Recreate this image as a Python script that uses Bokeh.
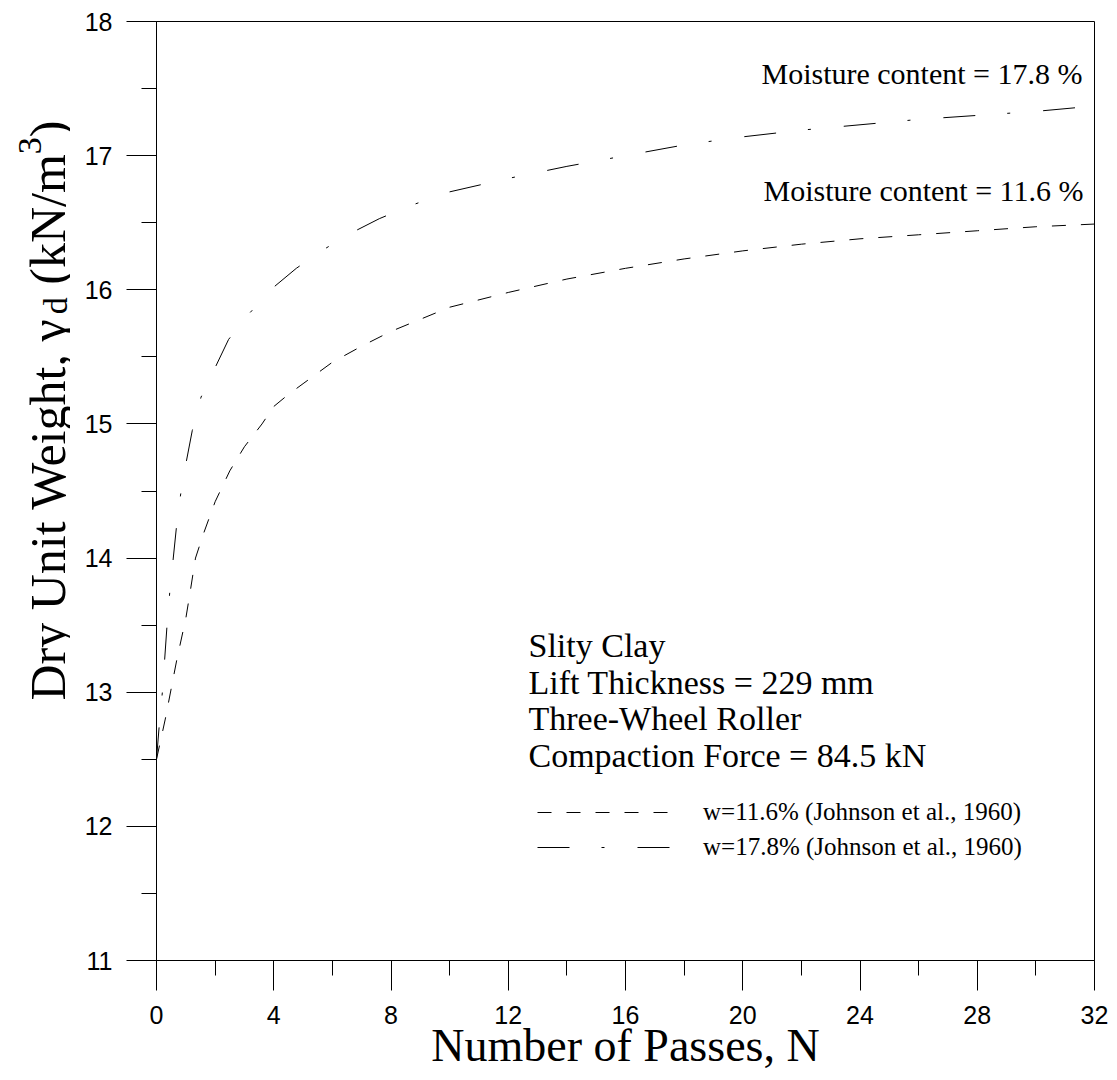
import math
from bokeh.plotting import figure
from bokeh.layouts import row
from bokeh.models import (Range1d, SingleIntervalTicker, LinearAxis, Label,
                          Legend, LegendItem, ColumnDataSource)
from bokeh.core.properties import value
from bokeh.embed import file_html
from bokeh.resources import INLINE

# ---------------- data ----------------
passes_w116 = [0, 0.3, 0.7, 1.0, 1.15, 1.33, 1.6, 2.0, 2.5, 3.0, 3.6, 4.0, 4.5, 5, 6, 7,
               8, 9, 10, 12, 14, 16, 18, 20, 22, 24, 26, 28, 30, 32]
gamma_w116 = [12.5, 12.8, 13.25, 13.55, 13.75, 14.0, 14.18, 14.42, 14.65, 14.83, 15.0,
              15.13, 15.22, 15.3, 15.46, 15.58, 15.69, 15.78, 15.87, 15.98, 16.08, 16.16,
              16.23, 16.29, 16.34, 16.38, 16.41, 16.44, 16.47, 16.49]

passes_w178 = [0, 0.1, 0.2, 0.36, 0.45, 0.68, 0.82, 1.0, 1.22, 1.52, 2.0, 2.46, 3.15, 4.0,
               4.77, 5.7, 6.7, 7.6, 8.7, 10, 12, 14, 16, 18, 20, 22, 24, 26, 28, 30, 32]
gamma_w178 = [12.5, 12.77, 13.0, 13.5, 13.74, 14.23, 14.47, 14.7, 14.95, 15.2, 15.42, 15.63,
              15.82, 16.02, 16.16, 16.30, 16.43, 16.53, 16.63, 16.73, 16.83, 16.92, 17.0,
              17.08, 17.14, 17.19, 17.23, 17.27, 17.30, 17.33, 17.37]

series_labels = ["w=11.6% (Johnson et al., 1960)", "w=17.8% (Johnson et al., 1960)"]
curve_notes = ["Moisture content = 17.8 %", "Moisture content = 11.6 %"]
info_lines = ["Slity Clay", "Lift Thickness = 229 mm", "Three-Wheel Roller",
              "Compaction Force = 84.5 kN"]
x_title = "Number of Passes, N"
y_title_parts = ["Dry Unit Weight, \u03b3", "d", "(kN/m", "3", ")"]

SERIF = "Liberation Serif"
SANS = "Liberation Sans"

W_TOTAL, H_TOTAL = 1117, 1080
W_LEFT = 70                      # strip that carries the y-axis title
FRAME_LEFT = 156                 # frame edges in the page
FRAME_TOP, FRAME_BOTTOM = 21, 960

# ---------------- main chart ----------------
p = figure(width=W_TOTAL - W_LEFT, height=H_TOTAL, output_backend="svg",
           toolbar_location=None,
           x_range=Range1d(0, 32), y_range=Range1d(11, 18),
           x_axis_type=None, y_axis_type=None,
           min_border_left=FRAME_LEFT - W_LEFT, min_border_right=23,
           min_border_top=FRAME_TOP, min_border_bottom=H_TOTAL - FRAME_BOTTOM)
p.background_fill_color = "white"
p.border_fill_color = "white"
p.outline_line_color = "black"
p.outline_line_width = 1
p.outline_line_alpha = 1.0

xaxis = LinearAxis(ticker=SingleIntervalTicker(interval=4, num_minor_ticks=2))
yaxis = LinearAxis(ticker=SingleIntervalTicker(interval=1, num_minor_ticks=2))
for ax in (xaxis, yaxis):
    ax.major_tick_out = 30
    ax.major_tick_in = 0
    ax.minor_tick_out = 15
    ax.minor_tick_in = 0
    ax.axis_line_color = "black"
    ax.major_tick_line_color = "black"
    ax.minor_tick_line_color = "black"
    ax.major_label_text_font = SANS
    ax.major_label_text_font_size = "25px"
    ax.major_label_text_color = "black"
xaxis.major_label_standoff = 15
yaxis.major_label_standoff = 14
xaxis.axis_label = x_title
xaxis.axis_label_text_font = SERIF
xaxis.axis_label_text_font_size = "46px"
xaxis.axis_label_text_font_style = "normal"
xaxis.axis_label_text_color = "black"
xaxis.axis_label_standoff = -7
p.add_layout(xaxis, "below")
p.add_layout(yaxis, "left")

src116 = ColumnDataSource(dict(x=passes_w116, y=gamma_w116))
src178 = ColumnDataSource(dict(x=passes_w178, y=gamma_w178))
r1 = p.line("x", "y", source=src116, line_color="black", line_width=1, line_dash="14 15")
r2 = p.line("x", "y", source=src178, line_color="black", line_width=1,
            line_dash="32 32 3 33")

legend = Legend(items=[LegendItem(label=series_labels[0], renderers=[r1]),
                       LegendItem(label=series_labels[1], renderers=[r2])],
                location=(381, 98), orientation="vertical",
                glyph_width=133, glyph_height=30, label_height=30,
                label_standoff=33, spacing=5, padding=0, margin=0,
                border_line_color=None, background_fill_alpha=0,
                label_text_font=SERIF, label_text_font_size="25px",
                label_text_color="black")
p.add_layout(legend)

def sx(X):
    return X - FRAME_LEFT

def sy(Y):
    return FRAME_BOTTOM - Y

p.add_layout(Label(x=sx(1082), y=sy(73), x_units="screen", y_units="screen",
                   text=curve_notes[0], text_align="right", text_baseline="middle",
                   text_font=SERIF, text_font_size="30px", text_color="black"))
p.add_layout(Label(x=sx(1083), y=sy(190), x_units="screen", y_units="screen",
                   text=curve_notes[1], text_align="right", text_baseline="middle",
                   text_font=SERIF, text_font_size="30px", text_color="black"))

for i, t in enumerate(info_lines):
    p.add_layout(Label(x=sx(528), y=sy(645 + 36.7 * i), x_units="screen", y_units="screen",
                       text=t, text_align="left", text_baseline="middle",
                       text_font=SERIF, text_font_size="34px", text_color="black"))

# ---------------- left strip with the y-axis title ----------------
# its frame covers the same rows as the main frame; data y == page pixels from bottom
q = figure(width=W_LEFT, height=H_TOTAL, output_backend="svg", toolbar_location=None,
           x_range=Range1d(0, W_LEFT),
           y_range=Range1d(H_TOTAL - FRAME_BOTTOM, H_TOTAL - FRAME_TOP),
           x_axis_type=None, y_axis_type=None,
           min_border_left=0, min_border_right=0,
           min_border_top=FRAME_TOP, min_border_bottom=H_TOTAL - FRAME_BOTTOM)
q.outline_line_color = None
q.background_fill_color = "white"
q.border_fill_color = "white"
q.grid.visible = False

F = 50.0
small = 0.68 * F
# (font size, advance in em of F, baseline shift to the right)
piece_fmt = [(F, 7.277 + 0.45, 0.0),
             (small, 0.5 * 0.68 + 0.25, 0.16 * F),
             (F, 2.611, 0.0),
             (small, 0.5 * 0.68, -0.36 * F),
             (F, 0.333, 0.0)]
total = sum(a for _, a, _ in piece_fmt) * F
base_x = 47.0
center_page_y = 410.0
ypos = (H_TOTAL - center_page_y) - total / 2.0
for txt, (size, adv, shift) in zip(y_title_parts, piece_fmt):
    q.text(x=[base_x + shift], y=[ypos], text=[txt], angle=math.pi / 2,
           text_align="left", text_baseline="alphabetic",
           text_font=value(SERIF), text_font_size=f"{size:.1f}px", text_color="black")
    ypos += adv * F

layout = row(q, p)
open("out.html", "w").write(file_html(layout, INLINE))
